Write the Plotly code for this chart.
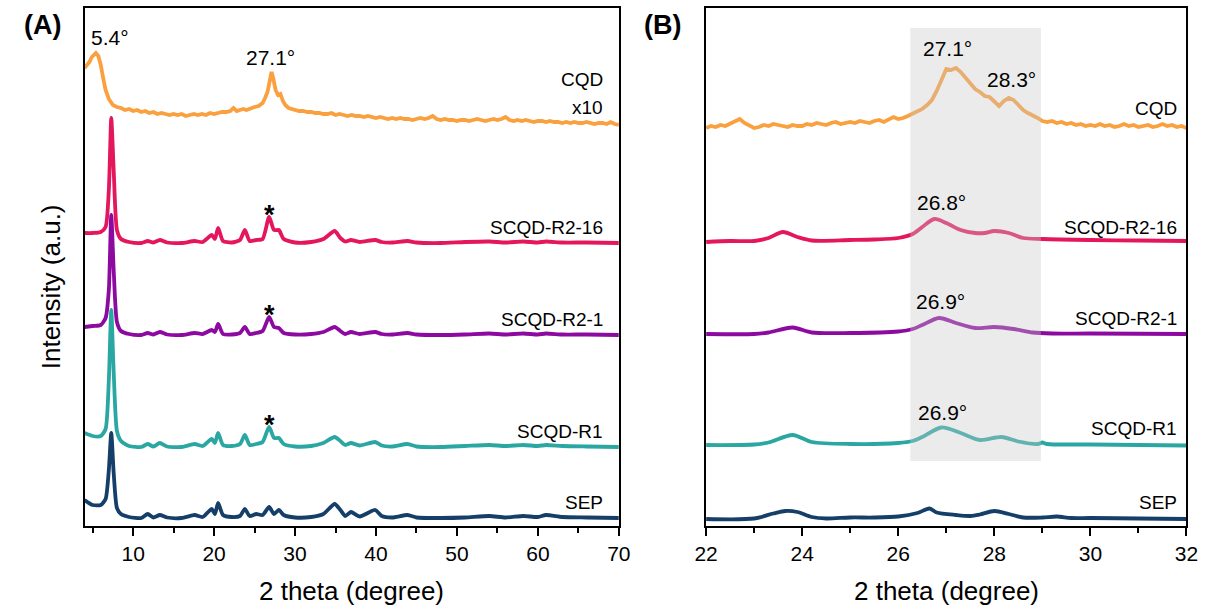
import plotly.graph_objects as go

# ---------------- DATA (intensity relative to each trace's baseline, a.u.) ----------------
# Panel A: common 2-theta grid for SEP / SCQD series
xa = [4, 5, 6, 6.6, 7.0, 7.3, 7.6, 8.0, 8.5, 9.5, 11, 11.8, 12.5, 13.3, 14.2, 16, 17.6, 18.6,
      19.7, 20.1, 20.5, 21.1, 22.2, 23.2, 23.8, 24.4, 25.2, 26.0, 26.8, 27.4, 28.0, 28.6, 30, 32,
      33.5, 34.9, 35.6, 36.2, 36.9, 38, 39.9, 40.7, 42, 43.9, 45, 48, 51, 54, 56, 58.2, 60, 61,
      63, 66, 70]
sep_a = [18, 13, 13, 19, 48, 85, 45, 10, 4, 1, 0, 4, 0.5, 3, 0.5, 0, 3, 1, 9, 4, 15, 3, 1, 2, 9,
         2, 4, 3, 11, 4, 8, 3, 0.5, 1, 4, 14, 8, 2, 6, 1.5, 8, 2, 0.5, 3, 0.5, 0, 0.5, 2, 0.5, 2,
         1, 3, 1, 0.5, 0]
r1_a = [14, 11, 11, 18, 67, 137, 75, 16, 6, 1, 0, 3, 0.5, 4, 0.5, 0, 3, 1, 8, 4, 14, 2, 1, 3, 12,
        2, 3, 5, 20, 9, 9, 3, 0.5, 1, 4, 10, 6, 2, 4, 1.5, 5, 1.5, 0.5, 3, 0.5, 0, 1, 2, 1, 2, 1,
        2, 1, 0.5, 0]
r21_a = [8, 9, 10, 17, 45, 120, 65, 13, 4, 1, 0, 2, 0.5, 3, 0.5, 0, 2, 1, 5, 3, 11, 1, 0.5, 2, 8,
         1, 2, 4, 18, 8, 7, 2, 0.5, 1, 3, 8, 4, 1, 3, 1, 3, 1, 0.5, 2, 0.5, 0, 0.5, 1.5, 0.5, 1.5,
         0.5, 1.5, 0.5, 0.5, 0]
r216_a = [10, 10, 11, 16, 53, 125, 73, 13, 4, 1, 0, 2, 0.5, 3, 0.5, 0, 2, 1, 8, 4, 15, 2, 0.5, 3,
          13, 2, 3, 4, 26, 13, 13, 4, 0.5, 1, 4, 12, 5, 1.5, 3, 1, 3, 1, 0.5, 2, 0.5, 0, 1, 1.5,
          0.5, 1.5, 0.5, 1.5, 0.5, 0.5, 0]
cqd_a = [(4, 52), (4.3, 55), (4.6, 58), (4.9, 63), (5.2, 65), (5.4, 67), (5.7, 64), (6.0, 55),
         (6.3, 42), (6.6, 30), (7.0, 21), (7.5, 15), (8.0, 13), (8.5, 12), (9.0, 10), (9.5, 11),
         (10, 9), (10.5, 10), (11, 8), (11.5, 9), (12, 7), (12.5, 8), (13, 6), (13.5, 7), (14, 6),
         (14.5, 5), (15, 6), (15.5, 5), (16, 6), (16.5, 4), (17, 5), (17.5, 6), (18, 5), (18.5, 6),
         (19, 5), (19.5, 7), (20, 6), (20.5, 7), (21, 8), (21.5, 8), (22, 9), (22.4, 12), (22.8, 9),
         (23.2, 10), (23.6, 11), (24, 10), (24.5, 12), (25, 13), (25.5, 14), (26, 17), (26.3, 22),
         (26.6, 28), (26.9, 40), (27.1, 48), (27.3, 42), (27.6, 30), (27.9, 25), (28.2, 26),
         (28.5, 19), (28.8, 15), (29.2, 12), (29.6, 11), (30, 10), (30.5, 9), (31, 9), (31.5, 8),
         (32, 8), (32.5, 7), (33, 7), (33.5, 6), (34, 6), (34.5, 7), (35, 5), (35.5, 6), (36, 5),
         (36.5, 4), (37, 5), (37.5, 4), (38, 4), (38.5, 3), (39, 4), (39.5, 3), (40, 2), (40.5, 3),
         (41, 2), (41.5, 1), (42, 2), (42.5, 1), (43, 2), (43.5, 1), (44, 1), (44.5, 0), (45, 1),
         (45.5, 2), (46, 1), (46.5, 2), (47, 4), (47.5, 1), (48, 0), (48.5, 1), (49, 0), (49.5, 0),
         (50, -1), (50.5, 0), (51, 0), (51.5, -1), (52, 0), (52.5, 1), (53, 0), (53.5, -1), (54, 0),
         (54.5, 1), (55, 0), (55.5, 1), (56, 3), (56.5, 0), (57, -1), (57.5, 0), (58, -1),
         (58.5, 0), (59, -1), (59.5, -2), (60, -1), (60.5, -1), (61, -2), (61.5, -1), (62, -2),
         (62.5, -2), (63, -3), (63.5, -2), (64, -3), (64.5, -2), (65, -3), (65.5, -3), (66, -2),
         (66.5, -3), (67, -4), (67.5, -3), (68, -3), (68.5, -4), (69, -2), (69.5, -4), (70, -5)]

# Panel B (zoom 22-32 degree)
cqd_b = [(22.0, -1), (22.1, 1), (22.2, 0), (22.3, 2), (22.4, 1), (22.5, 3), (22.6, 5), (22.7, 8),
         (22.8, 4), (22.9, 1), (23.0, -1), (23.1, 0), (23.2, 2), (23.3, 1), (23.4, 3), (23.5, 2),
         (23.6, 1), (23.7, 0), (23.8, 2), (23.9, 1), (24.0, 1), (24.1, 3), (24.2, 2), (24.3, 4),
         (24.4, 3), (24.5, 2), (24.6, 4), (24.7, 5), (24.8, 3), (24.9, 4), (25.0, 5), (25.1, 4),
         (25.2, 6), (25.3, 5), (25.4, 4), (25.5, 6), (25.6, 7), (25.7, 5), (25.8, 7), (25.9, 10),
         (26.0, 8), (26.1, 9), (26.2, 11), (26.3, 13), (26.4, 15), (26.5, 18), (26.6, 22),
         (26.7, 27), (26.8, 36), (26.9, 48), (27.0, 58), (27.1, 57), (27.2, 59), (27.3, 55),
         (27.4, 49), (27.5, 43), (27.6, 38), (27.7, 35), (27.8, 31), (27.9, 30), (28.0, 26),
         (28.1, 21), (28.2, 26), (28.3, 29), (28.4, 27), (28.5, 22), (28.6, 17), (28.7, 14),
         (28.8, 12), (28.9, 9), (29.0, 6), (29.1, 5), (29.2, 6), (29.3, 4), (29.4, 5), (29.5, 3),
         (29.6, 4), (29.7, 2), (29.8, 3), (29.9, 1), (30.0, 2), (30.1, 1), (30.2, 3), (30.3, 1),
         (30.4, 2), (30.5, 0), (30.6, 1), (30.7, 3), (30.8, 1), (30.9, 2), (31.0, 0), (31.1, 1),
         (31.2, 2), (31.3, 0), (31.4, 1), (31.5, 3), (31.6, 1), (31.7, 2), (31.8, 0), (31.9, 1),
         (32.0, -1)]
r216_b = [(22, -1), (22.5, 0), (23, 0), (23.3, 3), (23.6, 9), (23.9, 4), (24.2, 0.5), (25, 1),
          (25.5, 1.5), (26, 3), (26.3, 7), (26.5, 14), (26.75, 22), (27.0, 18), (27.3, 11),
          (27.6, 8), (27.8, 8), (28.0, 10), (28.3, 8), (28.6, 3), (29, 2), (30, 1), (31, 0.5),
          (32, 0)]
r21_b = [(22, 0), (23, 0), (23.3, 1.5), (23.8, 6.5), (24.2, 1.5), (25, 1), (26, 2.5), (26.3, 5),
         (26.5, 9), (26.85, 16), (27.2, 11), (27.6, 6), (28.0, 7), (28.4, 5), (28.8, 1.5),
         (29.2, 0.5), (30, 0.5), (32, 0)]
r1_b = [(22, 0), (23, 0.5), (23.3, 2.5), (23.8, 10), (24.2, 3), (25, 1), (26, 2), (26.3, 4),
        (26.5, 8), (26.9, 17.5), (27.3, 12), (27.7, 5), (28.15, 8), (28.5, 3.5), (28.9, 1),
        (29.0, 2.5), (29.1, 1), (30, 0.5), (32, -0.5)]
sep_b = [(22, 0), (23, 0.5), (23.4, 5.5), (23.65, 8), (23.9, 7), (24.2, 2), (24.5, 0.5), (25, 1.5),
         (25.5, 1.5), (26, 2.5), (26.4, 6), (26.65, 10.5), (26.8, 6.5), (27.2, 4), (27.5, 3),
         (27.7, 4.5), (28.0, 8), (28.3, 5), (28.6, 1.5), (29, 1.5), (29.3, 2.5), (29.6, 1),
         (30, 1), (31, 0.5), (32, 0)]

names = ["CQD", "SCQD-R2-16", "SCQD-R2-1", "SCQD-R1", "SEP"]
colors = ["#FBA03E", "#E4165E", "#8C0AA0", "#2AA7A3", "#153E69"]
offsets_a = [406, 283, 191, 79, 8]
offsets_b = [399, 285, 192, 81, 7]

peak_labels_a = [("5.4°", 7.2, 488), ("27.1°", 27.0, 468)]
peak_labels_b = [("27.1°", 27.02, 477), ("28.3°", 28.36, 446), ("26.8°", 26.9, 323),
                 ("26.9°", 26.87, 224), ("26.9°", 26.92, 113)]
star_pos_a = [(26.85, 311), (26.85, 211), (26.85, 101)]
label_y_a = [446, 298, 206, 94, 23]
label_y_b = [417, 298, 207, 97, 23]

# ---------------- FIGURE ----------------
FONT = "Liberation Sans, Arial, sans-serif"
fig = go.Figure()

def unzip(pairs):
    return [p[0] for p in pairs], [p[1] for p in pairs]

cx, cy = unzip(cqd_a)
series_a = [(cx, cy), (xa, r216_a), (xa, r21_a), (xa, r1_a), (xa, sep_a)]
for i, (xs, ys) in enumerate(series_a):
    fig.add_trace(go.Scatter(
        x=xs, y=[v + offsets_a[i] for v in ys], mode="lines", name=names[i],
        line=dict(color=colors[i], width=3.8, shape="linear" if i == 0 else "spline",
                  smoothing=0.6),
        xaxis="x", yaxis="y", showlegend=False))

series_b = [cqd_b, r216_b, r21_b, r1_b, sep_b]
for i, pairs in enumerate(series_b):
    xs, ys = unzip(pairs)
    fig.add_trace(go.Scatter(
        x=xs, y=[v + offsets_b[i] for v in ys], mode="lines", name=names[i],
        line=dict(color=colors[i], width=3.8, shape="linear" if i == 0 else "spline",
                  smoothing=0.8),
        xaxis="x2", yaxis="y2", showlegend=False))

def txt(text, x, y, xref, yref, size, xanchor="center", yanchor="middle", **kw):
    return dict(text=text, x=x, y=y, xref=xref, yref=yref, showarrow=False,
                xanchor=xanchor, yanchor=yanchor,
                font=dict(size=size, color="black", family=FONT), **kw)

ann = []
for t, x, y in peak_labels_a:
    ann.append(txt(t, x, y, "x", "y", 21))
for x, y in star_pos_a:
    ann.append(txt("<b>*</b>", x, y, "x", "y", 27))
for i, n in enumerate(names):
    ann.append(txt(n, 68.3, label_y_a[i], "x", "y", 19, xanchor="right"))
ann.append(txt("x10", 68.3, 418, "x", "y", 19, xanchor="right"))
for t, x, y in peak_labels_b:
    ann.append(txt(t, x, y, "x2", "y2", 21))
for i, n in enumerate(names):
    ann.append(txt(n, 31.85, label_y_b[i], "x2", "y2", 19, xanchor="right"))
ann += [
    txt("<b>(A)</b>", 31 / 1223, 1 - 25 / 610, "paper", "paper", 27),
    txt("<b>(B)</b>", 664 / 1223, 1 - 25 / 610, "paper", "paper", 27),
    txt("Intensity (a.u.)", 40 / 1223, 1 - 287 / 610, "paper", "paper", 26, textangle=-90),
    txt("2 theta (degree)", 346 / 1223, 1 - 591 / 610, "paper", "paper", 26),
    txt("2 theta (degree)", 953 / 1223, 1 - 591 / 610, "paper", "paper", 26),
]

xcommon = dict(showline=True, linewidth=2, linecolor="black", mirror=True, ticks="outside",
               ticklen=8, tickwidth=2, tickcolor="black", showgrid=False, zeroline=False,
               tickfont=dict(size=21, color="black", family=FONT))
ycommon = dict(showline=True, linewidth=2, linecolor="black", mirror=True, showticklabels=False,
               ticks="", showgrid=False, zeroline=False, range=[0, 518], fixedrange=True)
ydom = [84 / 610, 602 / 610]

fig.update_layout(
    width=1223, height=610, margin=dict(l=0, r=0, t=0, b=0),
    paper_bgcolor="white", plot_bgcolor="white",
    xaxis=dict(domain=[74 / 1223, 619 / 1223], range=[4, 70], tickmode="array",
               tickvals=[10, 20, 30, 40, 50, 60, 70],
               minor=dict(tickmode="array", tickvals=[5, 15, 25, 35, 45, 55, 65],
                          ticks="outside", ticklen=5, tickwidth=2, tickcolor="black"),
               anchor="y", **xcommon),
    xaxis2=dict(domain=[708 / 1223, 1198 / 1223], range=[22, 32], tickmode="array",
                tickvals=[22, 24, 26, 28, 30, 32],
                minor=dict(tickmode="array", tickvals=[23, 25, 27, 29, 31],
                           ticks="outside", ticklen=5, tickwidth=2, tickcolor="black"),
                anchor="y2", **xcommon),
    yaxis=dict(domain=ydom, anchor="x", **ycommon),
    yaxis2=dict(domain=ydom, anchor="x2", **ycommon),
    annotations=ann,
    shapes=[dict(type="rect", xref="x2", yref="y2", x0=26.25, x1=28.97, y0=65, y1=498,
                 fillcolor="rgba(200,200,200,0.36)", line=dict(width=0), layer="above")],
)

fig.write_html("out.html")
